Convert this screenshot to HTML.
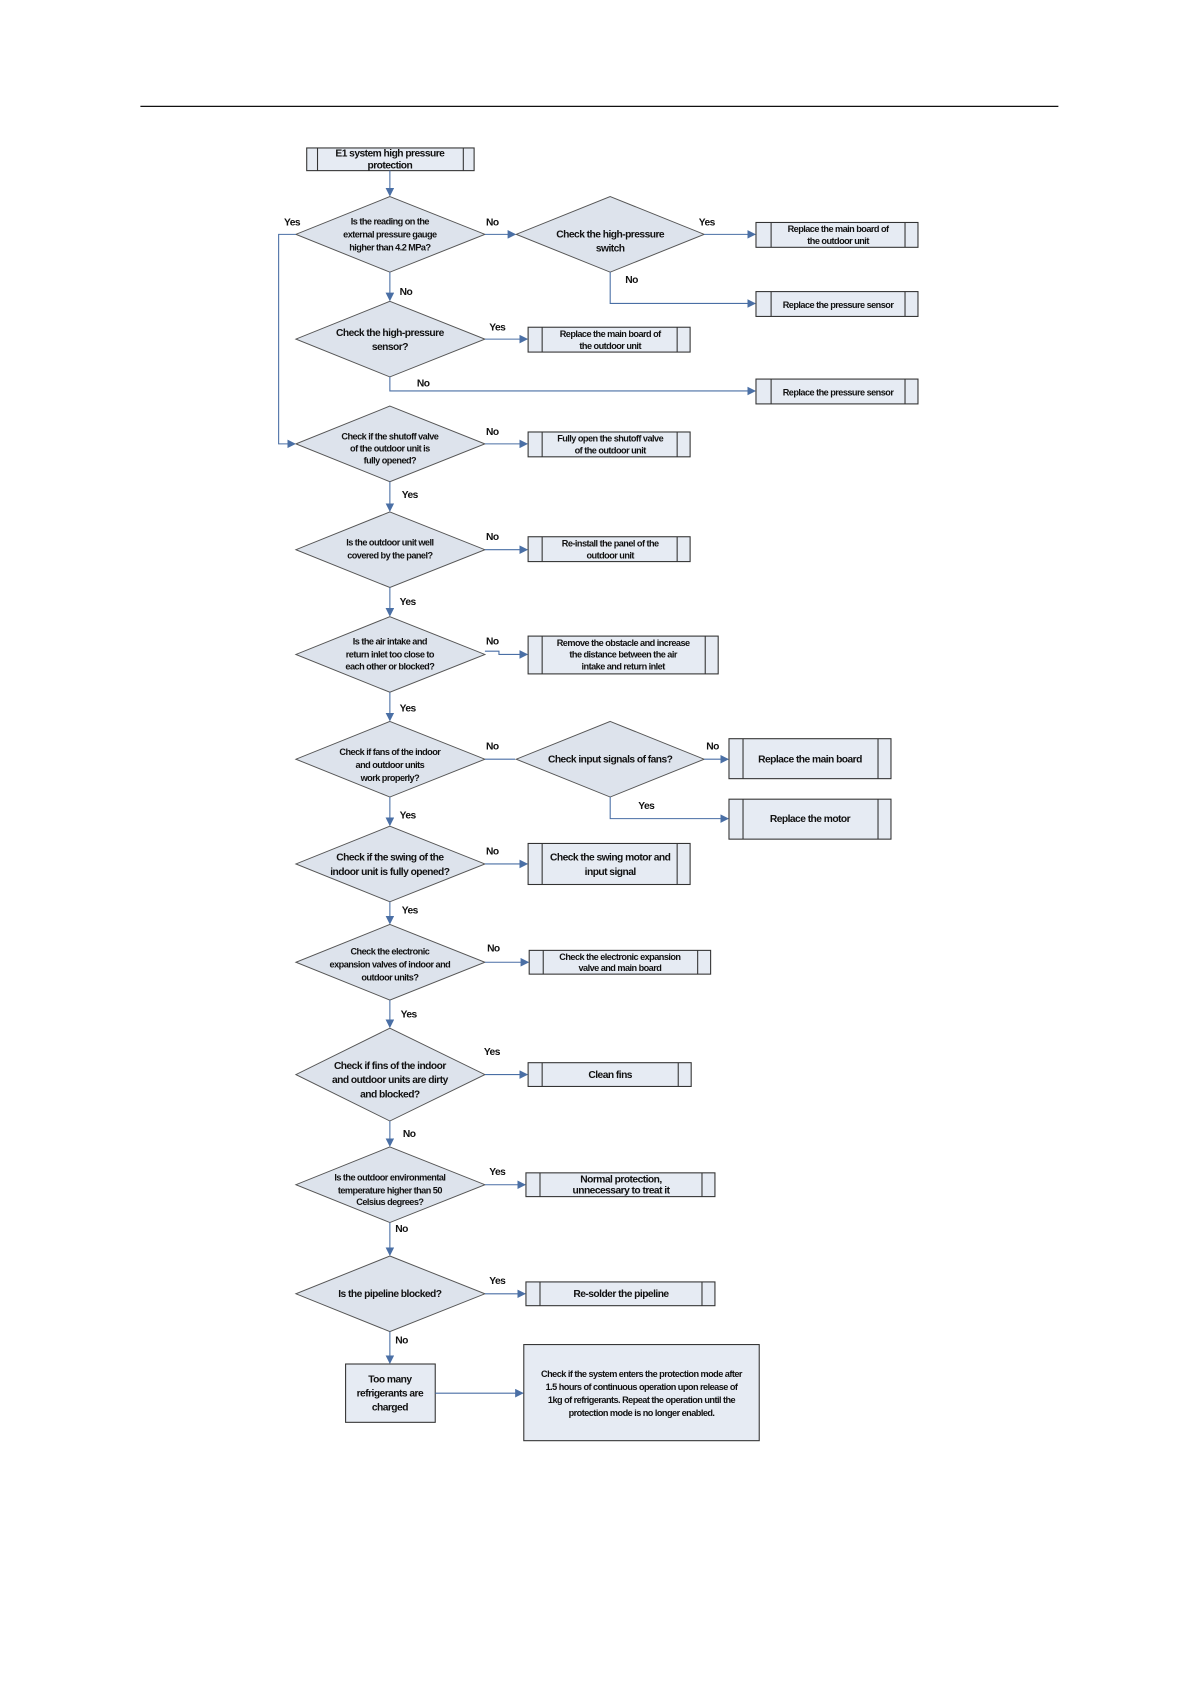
<!DOCTYPE html>
<html><head><meta charset="utf-8"><style>
html,body{margin:0;padding:0;background:#fff;}
svg{display:block;}
.d{fill:#dde3ec;stroke:#555;stroke-width:0.9;}
.b{fill:#e6ebf3;stroke:#333;stroke-width:1;}
.v{stroke:#333;stroke-width:1;}
.l{stroke:#4a6fa5;stroke-width:1;fill:none;}
.a{fill:#4a6fa5;}
text{font-family:"Liberation Sans",Arial,sans-serif;font-weight:bold;font-size:9.5px;letter-spacing:-0.5px;fill:#111;text-anchor:middle;}
.s{font-size:8.5px;}
.lab{font-size:9.5px;text-anchor:start;}
</style></head><body>
<svg width="1191" height="1684" viewBox="0 0 1102.8 1559.3" xmlns="http://www.w3.org/2000/svg">
<defs>
<marker id="ar" markerWidth="8" markerHeight="8" refX="7" refY="4" orient="auto" markerUnits="userSpaceOnUse"><path d="M0,0 L8,4 L0,8 Z" class="a"/></marker>
</defs>
<line x1="130" y1="98.5" x2="980" y2="98.5" stroke="#111" stroke-width="1.2"/>

<!-- start box -->
<rect class="b" x="284" y="137" width="155" height="21"/><line class="v" x1="294" y1="137" x2="294" y2="158"/><line class="v" x1="429" y1="137" x2="429" y2="158"/>
<text x="361" y="145">E1 system high pressure</text><text x="361" y="156">protection</text>
<line class="l" x1="361" y1="158" x2="361" y2="181" marker-end="url(#ar)"/>

<!-- D1 -->
<polygon class="d" points="361,182 449,217 361,252 274,217"/>
<text class="s" x="361" y="208">Is the reading on the</text><text class="s" x="361" y="220">external pressure gauge</text><text class="s" x="361" y="232">higher than 4.2 MPa?</text>
<line class="l" x1="449" y1="217" x2="477" y2="217" marker-end="url(#ar)"/>
<!-- D2 -->
<polygon class="d" points="565,182 652,217 565,252 478,217"/>
<text x="565" y="220">Check the high-pressure</text><text x="565" y="233">switch</text>
<line class="l" x1="652" y1="217" x2="699" y2="217" marker-end="url(#ar)"/>
<rect class="b" x="700" y="206" width="150" height="23"/><line class="v" x1="714" y1="206" x2="714" y2="229"/><line class="v" x1="838" y1="206" x2="838" y2="229"/>
<text class="s" x="776" y="215">Replace the main board of</text><text class="s" x="776" y="226">the outdoor unit</text>
<polyline class="l" points="565,252 565,281 699,281" marker-end="url(#ar)"/>
<rect class="b" x="700" y="270" width="150" height="23"/><line class="v" x1="714" y1="270" x2="714" y2="293"/><line class="v" x1="838" y1="270" x2="838" y2="293"/>
<text class="s" x="776" y="285">Replace the pressure sensor</text>

<line class="l" x1="361" y1="252" x2="361" y2="278" marker-end="url(#ar)"/>
<!-- D3 -->
<polygon class="d" points="361,279 449,314 361,349 274,314"/>
<text x="361" y="311">Check the high-pressure</text><text x="361" y="324">sensor?</text>
<line class="l" x1="449" y1="314" x2="488" y2="314" marker-end="url(#ar)"/>
<rect class="b" x="489" y="303" width="150" height="23"/><line class="v" x1="502" y1="303" x2="502" y2="326"/><line class="v" x1="627" y1="303" x2="627" y2="326"/>
<text class="s" x="565" y="312">Replace the main board of</text><text class="s" x="565" y="323">the outdoor unit</text>
<polyline class="l" points="361,349 361,362 699,362" marker-end="url(#ar)"/>
<rect class="b" x="700" y="351" width="150" height="23"/><line class="v" x1="714" y1="351" x2="714" y2="374"/><line class="v" x1="838" y1="351" x2="838" y2="374"/>
<text class="s" x="776" y="366">Replace the pressure sensor</text>

<!-- yes loop -->
<polyline class="l" points="274,217 258,217 258,411 273,411" marker-end="url(#ar)"/>

<!-- D4 -->
<polygon class="d" points="361,376 449,411 361,446 274,411"/>
<text class="s" x="361" y="407">Check if the shutoff valve</text><text class="s" x="361" y="418">of the outdoor unit is</text><text class="s" x="361" y="429">fully opened?</text>
<line class="l" x1="449" y1="411" x2="488" y2="411" marker-end="url(#ar)"/>
<rect class="b" x="489" y="400" width="150" height="23"/><line class="v" x1="502" y1="400" x2="502" y2="423"/><line class="v" x1="627" y1="400" x2="627" y2="423"/>
<text class="s" x="565" y="409">Fully open the shutoff valve</text><text class="s" x="565" y="420">of the outdoor unit</text>
<line class="l" x1="361" y1="446" x2="361" y2="473" marker-end="url(#ar)"/>

<!-- D5 -->
<polygon class="d" points="361,474 449,509 361,544 274,509"/>
<text class="s" x="361" y="505">Is the outdoor unit well</text><text class="s" x="361" y="517">covered by the panel?</text>
<line class="l" x1="449" y1="509" x2="488" y2="509" marker-end="url(#ar)"/>
<rect class="b" x="489" y="497" width="150" height="23"/><line class="v" x1="502" y1="497" x2="502" y2="520"/><line class="v" x1="627" y1="497" x2="627" y2="520"/>
<text class="s" x="565" y="506">Re-install the panel of the</text><text class="s" x="565" y="517">outdoor unit</text>
<line class="l" x1="361" y1="544" x2="361" y2="570" marker-end="url(#ar)"/>

<!-- D6 -->
<polygon class="d" points="361,571 449,606 361,641 274,606"/>
<text class="s" x="361" y="597">Is the air intake and</text><text class="s" x="361" y="609">return inlet too close to</text><text class="s" x="361" y="620">each other or blocked?</text>
<polyline class="l" points="449,603 462,603 462,606 488,606" marker-end="url(#ar)"/>
<rect class="b" x="489" y="589" width="176" height="35"/><line class="v" x1="502" y1="589" x2="502" y2="624"/><line class="v" x1="653" y1="589" x2="653" y2="624"/>
<text class="s" x="577" y="598">Remove the obstacle and increase</text><text class="s" x="577" y="609">the distance between the air</text><text class="s" x="577" y="620">intake and return inlet</text>
<line class="l" x1="361" y1="641" x2="361" y2="667" marker-end="url(#ar)"/>

<!-- D7 -->
<polygon class="d" points="361,668 449,703 361,738 274,703"/>
<text class="s" x="361" y="699">Check if fans of the indoor</text><text class="s" x="361" y="711">and outdoor units</text><text class="s" x="361" y="723">work properly?</text>
<line class="l" x1="449" y1="703" x2="477" y2="703"/>
<polygon class="d" points="565,668 652,703 565,738 478,703"/>
<text x="565" y="706">Check input signals of fans?</text>
<line class="l" x1="652" y1="703" x2="674" y2="703" marker-end="url(#ar)"/>
<rect class="b" x="675" y="684" width="150" height="37"/><line class="v" x1="688" y1="684" x2="688" y2="721"/><line class="v" x1="813" y1="684" x2="813" y2="721"/>
<text x="750" y="706">Replace the main board</text>
<polyline class="l" points="565,738 565,758 674,758" marker-end="url(#ar)"/>
<rect class="b" x="675" y="740" width="150" height="37"/><line class="v" x1="688" y1="740" x2="688" y2="777"/><line class="v" x1="813" y1="740" x2="813" y2="777"/>
<text x="750" y="761">Replace the motor</text>
<line class="l" x1="361" y1="738" x2="361" y2="764" marker-end="url(#ar)"/>

<!-- D8 -->
<polygon class="d" points="361,765 449,800 361,835 274,800"/>
<text x="361" y="797">Check if the swing of the</text><text x="361" y="810">indoor unit is fully opened?</text>
<line class="l" x1="449" y1="800" x2="488" y2="800" marker-end="url(#ar)"/>
<rect class="b" x="489" y="781" width="150" height="38"/><line class="v" x1="502" y1="781" x2="502" y2="819"/><line class="v" x1="627" y1="781" x2="627" y2="819"/>
<text x="565" y="797">Check the swing motor and</text><text x="565" y="810">input signal</text>
<line class="l" x1="361" y1="835" x2="361" y2="855" marker-end="url(#ar)"/>

<!-- D9 -->
<polygon class="d" points="361,856 449,891 361,926 274,891"/>
<text class="s" x="361" y="884">Check the electronic</text><text class="s" x="361" y="896">expansion valves of indoor and</text><text class="s" x="361" y="908">outdoor units?</text>
<line class="l" x1="449" y1="891" x2="489" y2="891" marker-end="url(#ar)"/>
<rect class="b" x="490" y="880" width="168" height="22"/><line class="v" x1="503" y1="880" x2="503" y2="902"/><line class="v" x1="646" y1="880" x2="646" y2="902"/>
<text class="s" x="574" y="889">Check the electronic expansion</text><text class="s" x="574" y="899">valve and main board</text>
<line class="l" x1="361" y1="926" x2="361" y2="951" marker-end="url(#ar)"/>

<!-- D10 -->
<polygon class="d" points="361,952 449,995 361,1038 274,995"/>
<text x="361" y="990">Check if fins of the indoor</text><text x="361" y="1003">and outdoor units are dirty</text><text x="361" y="1016">and blocked?</text>
<line class="l" x1="449" y1="995" x2="488" y2="995" marker-end="url(#ar)"/>
<rect class="b" x="489" y="984" width="151" height="22"/><line class="v" x1="502" y1="984" x2="502" y2="1006"/><line class="v" x1="628" y1="984" x2="628" y2="1006"/>
<text x="565" y="998">Clean fins</text>
<line class="l" x1="361" y1="1038" x2="361" y2="1061" marker-end="url(#ar)"/>

<!-- D11 -->
<polygon class="d" points="361,1062 449,1097 361,1132 274,1097"/>
<text class="s" x="361" y="1093">Is the outdoor environmental</text><text class="s" x="361" y="1105">temperature higher than 50</text><text class="s" x="361" y="1116">Celsius degrees?</text>
<line class="l" x1="449" y1="1097" x2="486" y2="1097" marker-end="url(#ar)"/>
<rect class="b" x="487" y="1086" width="175" height="22"/><line class="v" x1="500" y1="1086" x2="500" y2="1108"/><line class="v" x1="650" y1="1086" x2="650" y2="1108"/>
<text x="575" y="1095">Normal protection,</text><text x="575" y="1105">unnecessary to treat it</text>
<line class="l" x1="361" y1="1132" x2="361" y2="1162" marker-end="url(#ar)"/>

<!-- D12 -->
<polygon class="d" points="361,1163 449,1198 361,1233 274,1198"/>
<text x="361" y="1201">Is the pipeline blocked?</text>
<line class="l" x1="449" y1="1198" x2="486" y2="1198" marker-end="url(#ar)"/>
<rect class="b" x="487" y="1187" width="175" height="22"/><line class="v" x1="500" y1="1187" x2="500" y2="1209"/><line class="v" x1="650" y1="1187" x2="650" y2="1209"/>
<text x="575" y="1201">Re-solder the pipeline</text>
<line class="l" x1="361" y1="1233" x2="361" y2="1262" marker-end="url(#ar)"/>

<rect class="b" x="320" y="1263" width="83" height="54"/>
<text x="361" y="1280">Too many</text><text x="361" y="1293">refrigerants are</text><text x="361" y="1306">charged</text>
<line class="l" x1="403" y1="1290" x2="484" y2="1290" marker-end="url(#ar)"/>
<rect class="b" x="485" y="1245" width="218" height="89"/>
<text class="s" x="594" y="1275">Check if the system enters the protection mode after</text>
<text class="s" x="594" y="1287">1.5 hours of continuous operation upon release of</text>
<text class="s" x="594" y="1299">1kg of refrigerants. Repeat the operation until the</text>
<text class="s" x="594" y="1311">protection mode is no longer enabled.</text>

<!-- labels -->
<g>
<text class="lab" x="263" y="209">Yes</text>
<text class="lab" x="450" y="209">No</text>
<text class="lab" x="647" y="209">Yes</text>
<text class="lab" x="579" y="262">No</text>
<text class="lab" x="370" y="273">No</text>
<text class="lab" x="453" y="306">Yes</text>
<text class="lab" x="386" y="358">No</text>
<text class="lab" x="450" y="403">No</text>
<text class="lab" x="372" y="461">Yes</text>
<text class="lab" x="450" y="500">No</text>
<text class="lab" x="370" y="560">Yes</text>
<text class="lab" x="450" y="597">No</text>
<text class="lab" x="370" y="659">Yes</text>
<text class="lab" x="450" y="694">No</text>
<text class="lab" x="654" y="694">No</text>
<text class="lab" x="591" y="749">Yes</text>
<text class="lab" x="370" y="758">Yes</text>
<text class="lab" x="450" y="791">No</text>
<text class="lab" x="372" y="846">Yes</text>
<text class="lab" x="451" y="881">No</text>
<text class="lab" x="371" y="942">Yes</text>
<text class="lab" x="448" y="977">Yes</text>
<text class="lab" x="373" y="1053">No</text>
<text class="lab" x="453" y="1088">Yes</text>
<text class="lab" x="366" y="1141">No</text>
<text class="lab" x="453" y="1189">Yes</text>
<text class="lab" x="366" y="1244">No</text>
</g>
</svg>
</body></html>
